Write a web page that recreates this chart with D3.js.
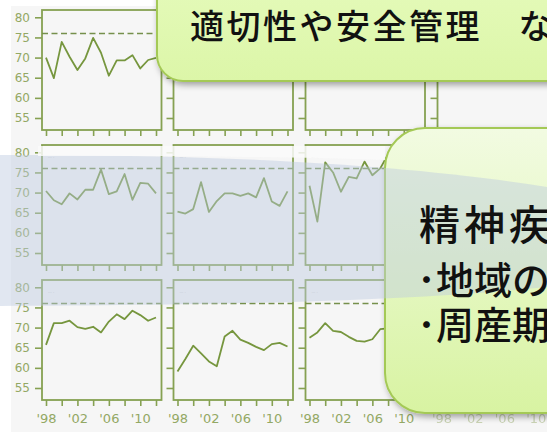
<!DOCTYPE html>
<html>
<head>
<meta charset="utf-8">
<script src="https://cdn.jsdelivr.net/npm/d3@7"></script>
<style>
  body { margin: 0; background: #fff; }
  svg { display: block; }
</style>
</head>
<body>
<svg id="chart" width="547" height="432"></svg>
<script>
// data
const years = [1998, 1999, 2000, 2001, 2002, 2003, 2004, 2005, 2006, 2007, 2008, 2009, 2010, 2011, 2012];
const yTicks = [55, 60, 65, 70, 75, 80];
const xTicks = [1998, 2000, 2002, 2004, 2006, 2008, 2010, 2012];
const xLabelYears = [1998, 2002, 2006, 2010];
const xLabels = ["'98", "'02", "'06", "'10"];
const target = 76;

const row1col1 = [70, 64.9, 73.9, 70.2, 66.9, 69.8, 74.9, 71.2, 65.5, 69.3, 69.3, 70.6, 67.3, 69.4, 69.9];
const row2col1 = [70.4, 68.1, 67.1, 69.8, 68.3, 70.7, 70.7, 75.7, 69.6, 70.3, 74.6, 68.2, 72.4, 72.2, 69.8];
const row3col1 = [65.7, 71.1, 71.1, 71.7, 70.1, 69.7, 70.2, 68.8, 71.5, 73.3, 72.1, 74.2, 73.1, 71.7, 72.5];
const row2col2 = [65.3, 64.8, 65.9, 72.6, 65.2, 67.9, 69.8, 69.8, 69.2, 69.8, 68.8, 73.6, 67.8, 66.7, 70.3];
const row3col2 = [59.1, 62.2, 65.5, 63.6, 61.6, 60.4, 67.8, 69.2, 67.0, 66.2, 65.2, 64.4, 65.9, 66.2, 65.3];
// third column is cut off by the callout after 2008
const row2col3 = [71.7, 62.8, 77.5, 75, 70.2, 73.9, 73.5, 77.7, 74.3, 76, 79.5];
const row3col3 = [67.5, 68.8, 71.1, 69.2, 68.9, 67.7, 66.7, 66.5, 67.1, 69.6, 69.8];

const calloutTop = "適切性や安全管理　な";
const calloutHead = "精神疾";
const calloutLines = ["･地域の", "･周産期"];

const panels = [
  { row: 0, col: 0, values: row1col1 }, { row: 0, col: 1, values: [] },
  { row: 0, col: 2, values: [] }, { row: 0, col: 3, values: [] },
  { row: 1, col: 0, values: row2col1 }, { row: 1, col: 1, values: row2col2 },
  { row: 1, col: 2, values: row2col3 }, { row: 1, col: 3, values: [] },
  { row: 2, col: 0, values: row3col1 }, { row: 2, col: 1, values: row3col2 },
  { row: 2, col: 2, values: row3col3 }, { row: 2, col: 3, values: [] }
];

const svg = d3.select("#chart");
const colLeft = [42, 173.5, 305.5, 437.5];
const rowTop = [10, 145, 280];
const pw = 119.5, ph = 120;
const green = "#76963e", boxColor = "#86a152", labelColor = "#93a864";

const defs = svg.append("defs");
const shadow = defs.append("filter").attr("id", "shadow")
  .attr("x", "-20%").attr("y", "-20%").attr("width", "140%").attr("height", "140%");
shadow.append("feDropShadow").attr("dx", 2).attr("dy", 3)
  .attr("stdDeviation", 3).attr("flood-color", "#000").attr("flood-opacity", 0.35);

const g1 = defs.append("linearGradient").attr("id", "gTop").attr("x1", 0).attr("y1", 0).attr("x2", 0).attr("y2", 1);
g1.append("stop").attr("offset", "0%").attr("stop-color", "#e6fbbd");
g1.append("stop").attr("offset", "100%").attr("stop-color", "#dcf6a8");
const g2 = defs.append("linearGradient").attr("id", "gSide").attr("x1", 0).attr("y1", 0).attr("x2", 0).attr("y2", 1);
g2.append("stop").attr("offset", "0%").attr("stop-color", "#f2fbe2");
g2.append("stop").attr("offset", "45%").attr("stop-color", "#e6f8c4");
g2.append("stop").attr("offset", "100%").attr("stop-color", "#d8f3a2");

// plot background
svg.append("rect").attr("x", 11).attr("y", 6).attr("width", 536).attr("height", 426).attr("fill", "#f6f6f6");

panels.forEach(p => {
  const g = svg.append("g").attr("transform", `translate(${colLeft[p.col]},${rowTop[p.row]})`);
  const x = d3.scaleLinear().domain([1998, 2012]).range([4, 114]);
  const y = d3.scaleLinear().domain([55, 80]).range([108, 7.3]);

  const ya = g.append("g")
    .call(d3.axisLeft(y).tickValues(yTicks).tickSize(7).tickPadding(5)
      .tickFormat(d => p.col === 0 ? d : ""));
  ya.select(".domain").remove();
  ya.selectAll("line").attr("stroke", boxColor).attr("stroke-width", 1.6);
  ya.selectAll("text").attr("fill", labelColor).style("font-family", "DejaVu Sans").style("font-size", "12px");

  const xa = g.append("g").attr("transform", `translate(0,${ph})`)
    .call(d3.axisBottom(x).tickValues(xTicks).tickSize(6).tickPadding(8)
      .tickFormat(d => {
        const i = xLabelYears.indexOf(d);
        return p.row === 2 && i >= 0 ? xLabels[i] : "";
      }));
  xa.select(".domain").remove();
  xa.selectAll("line").attr("stroke", boxColor).attr("stroke-width", 1.6);
  xa.selectAll("text").attr("fill", labelColor).style("font-family", "DejaVu Sans").style("font-size", "13px")
    .attr("opacity", p.col === 3 ? 0.45 : 1);

  g.append("rect").attr("width", pw).attr("height", ph)
    .attr("fill", "none").attr("stroke", boxColor).attr("stroke-width", 1.8);

  g.append("line").attr("x1", 0).attr("x2", pw).attr("y1", y(target)).attr("y2", y(target))
    .attr("stroke", "#76904c").attr("stroke-width", 1.5).attr("stroke-dasharray", "6,3.5");

  if (p.row > 0) {
    g.append("text").attr("x", 6).attr("y", 14).attr("fill", "#a8a8a8")
      .style("font-size", "4px").style("font-family", "DejaVu Sans").text("··· ·");
  }

  if (p.values.length) {
    g.append("path").datum(p.values)
      .attr("fill", "none").attr("stroke", green).attr("stroke-width", 1.8)
      .attr("stroke-linejoin", "round")
      .attr("d", d3.line().x((d, i) => x(years[i])).y(d => y(d)));
  }
});

// top callout
svg.append("rect").attr("x", 157).attr("y", -40).attr("width", 430).attr("height", 121).attr("rx", 26)
  .attr("fill", "url(#gTop)").attr("stroke", "#a4c956").attr("stroke-width", 2).attr("filter", "url(#shadow)");

// side callout
svg.append("rect").attr("x", 385).attr("y", 128).attr("width", 220).attr("height", 285).attr("rx", 40)
  .attr("fill", "url(#gSide)").attr("stroke", "#a4c956").attr("stroke-width", 2).attr("filter", "url(#shadow)");

// blue band across the middle
svg.append("path")
  .attr("d", "M0,155 C200,154 400,163 547,187 L547,287 C420,300 250,305 0,306 Z")
  .attr("fill", "rgb(188,202,224)").attr("opacity", 0.45);
svg.append("path")
  .attr("d", "M38,146 L385,146 L385,160 C300,157 200,156 38,156 Z")
  .attr("fill", "#fafafa").attr("opacity", 0.85);

svg.append("text").attr("x", 190).attr("y", 39)
  .style("font-family", "Noto Sans CJK JP").style("font-weight", 500)
  .style("font-size", "34px").style("letter-spacing", "2.5px")
  .attr("fill", "#111").text(calloutTop);

svg.append("text").attr("x", 419).attr("y", 240)
  .style("font-family", "Noto Sans CJK JP").style("font-weight", 500)
  .style("font-size", "41px").style("letter-spacing", "4px")
  .attr("fill", "#111").text(calloutHead);

svg.selectAll(".cl").data(calloutLines).join("text")
  .attr("class", "cl")
  .attr("x", 417).attr("y", (d, i) => 294 + i * 45)
  .style("font-family", "Noto Sans CJK JP").style("font-weight", 500)
  .style("font-size", "38px")
  .attr("fill", "#111").text(d => d);
</script>
</body>
</html>
